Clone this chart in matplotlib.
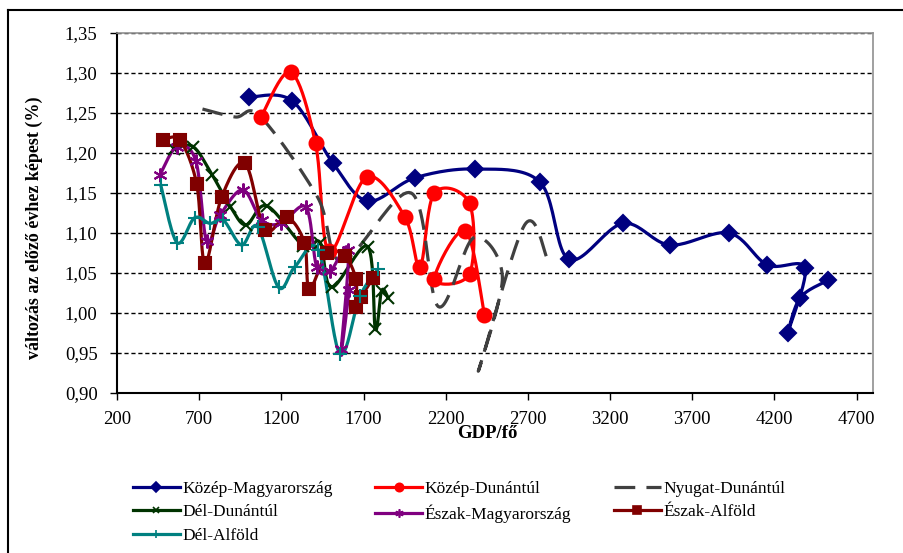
import numpy as np
import matplotlib
matplotlib.use('Agg')
import matplotlib.pyplot as plt
from matplotlib.lines import Line2D
from matplotlib.ticker import FuncFormatter, MultipleLocator

plt.rcParams['font.family'] = ['Liberation Serif', 'DejaVu Serif']

# GDP/fő (x) and change vs previous year (y)
kozep_magy_x = [1003, 1267, 1515, 1725, 2013, 2378, 2772, 2950, 3279, 3565, 3924, 4157, 4386, 4281, 4356, 4528]
kozep_magy_y = [1.270, 1.265, 1.187, 1.140, 1.169, 1.180, 1.164, 1.067, 1.112, 1.085, 1.100, 1.060, 1.056, 0.975, 1.019, 1.041]

kozep_dun_x = [1076, 1257, 1408, 1491, 1719, 1952, 2044, 2131, 2345, 2345, 2131, 2320, 2436]
kozep_dun_y = [1.245, 1.301, 1.212, 1.077, 1.170, 1.120, 1.058, 1.150, 1.137, 1.049, 1.042, 1.103, 0.998]

nyugat_dun_x = [720, 920, 1070, 1420, 1570, 1990, 2155, 2370, 2545, 2400, 2680, 2820]
nyugat_dun_y = [1.255, 1.245, 1.246, 1.145, 1.065, 1.150, 1.008, 1.094, 1.045, 0.928, 1.110, 1.067]

del_dun_x = [545, 663, 778, 890, 985, 1111, 1334, 1436, 1506, 1725, 1772, 1810, 1850]
del_dun_y = [1.205, 1.208, 1.173, 1.133, 1.110, 1.134, 1.084, 1.088, 1.032, 1.083, 0.980, 1.028, 1.019]

eszak_magy_x = [462, 565, 680, 745, 826, 965, 1080, 1198, 1350, 1415, 1496, 1607, 1565, 1613]
eszak_magy_y = [1.173, 1.208, 1.190, 1.090, 1.122, 1.154, 1.116, 1.112, 1.132, 1.058, 1.052, 1.079, 0.955, 1.029]

eszak_alf_x = [478, 583, 685, 735, 837, 979, 1100, 1232, 1340, 1370, 1479, 1587, 1654, 1655, 1685, 1760]
eszak_alf_y = [1.216, 1.216, 1.161, 1.062, 1.145, 1.187, 1.104, 1.120, 1.088, 1.030, 1.075, 1.071, 1.042, 1.008, 1.020, 1.044]

del_alf_x = [466, 565, 672, 766, 847, 958, 1055, 1183, 1283, 1425, 1556, 1678, 1789]
del_alf_y = [1.160, 1.088, 1.119, 1.112, 1.116, 1.085, 1.108, 1.032, 1.058, 1.079, 0.949, 1.021, 1.055]

series = [
    ('Közép-Magyarország', kozep_magy_x, kozep_magy_y, '#000080', 'D', 8, '-'),
    ('Közép-Dunántúl', kozep_dun_x, kozep_dun_y, '#FF0000', 'o', 10, '-'),
    ('Nyugat-Dunántúl', nyugat_dun_x, nyugat_dun_y, '#404040', None, 0, (0, (6.5, 3.5))),
    ('Dél-Dunántúl', del_dun_x, del_dun_y, '#003300', 'x', 8, '-'),
    ('Észak-Magyarország', eszak_magy_x, eszak_magy_y, '#800080', (6, 2, 0), 10, '-'),
    ('Észak-Alföld', eszak_alf_x, eszak_alf_y, '#800000', 's', 8.5, '-'),
    ('Dél-Alföld', del_alf_x, del_alf_y, '#008080', '+', 10, '-'),
]

XMIN, XMAX, YMIN, YMAX = 200, 4800, 0.90, 1.35
# plot area size in pixels, used so the smoothing behaves like Excel's
PW, PH = 756, 360


def smooth(xs, ys, n=24):
    """Excel-like smoothed line (Catmull-Rom through the points)."""
    sx = PW / (XMAX - XMIN)
    sy = PH / (YMAX - YMIN)
    pts = np.column_stack([np.array(xs) * sx, np.array(ys) * sy])
    P = np.vstack([pts[0], pts, pts[-1]])
    t = np.linspace(0, 1, n)[:, None]
    out = []
    for i in range(1, len(P) - 2):
        p0, p1, p2, p3 = P[i - 1], P[i], P[i + 1], P[i + 2]
        c1 = p1 + (p2 - p0) / 6
        c2 = p2 - (p3 - p1) / 6
        seg = (1 - t) ** 3 * p1 + 3 * (1 - t) ** 2 * t * c1 + 3 * (1 - t) * t ** 2 * c2 + t ** 3 * p2
        out.append(seg if i == 1 else seg[1:])
    arr = np.vstack(out)
    return arr[:, 0] / sx, arr[:, 1] / sy


fig = plt.figure(figsize=(9.04, 5.53), dpi=100)
ax = fig.add_axes([117 / 904, 1 - 393 / 553, 756 / 904, 360 / 553])

handles = []
for name, xs, ys, color, marker, ms, ls in series:
    sx, sy = smooth(xs, ys)
    ax.plot(sx, sy, color=color, lw=2.3, linestyle=ls, zorder=3)
    if marker is not None:
        ax.plot(xs, ys, linestyle='none', marker=marker, ms=ms, color=color,
                mec=color, mfc=color, mew=1.5, zorder=4)
    handles.append(Line2D([], [], color=color, lw=2.3, linestyle=ls,
                          marker=marker, ms=ms * 0.6, mec=color, mfc=color, mew=1.2))

ax.set_xlim(XMIN, XMAX)
ax.set_ylim(YMIN, YMAX)
ax.set_xticks(np.arange(200, 4701, 500))
ax.yaxis.set_major_locator(MultipleLocator(0.05))
ax.yaxis.set_major_formatter(FuncFormatter(lambda v, p: f"{v:.2f}".replace('.', ',')))
ax.tick_params(direction='out', length=5, width=1, labelsize=13.5)
ax.tick_params(axis='x', pad=8)
ax.tick_params(axis='y', pad=9)

ax.yaxis.grid(True, linestyle=(0, (3, 2)), color='black', lw=1)
ax.set_axisbelow(True)
for s in ['left', 'bottom']:
    ax.spines[s].set_color('black')
    ax.spines[s].set_linewidth(1.5)
for s in ['top', 'right']:
    ax.spines[s].set_color('#909090')
    ax.spines[s].set_linewidth(1.2)

ax.set_xlabel('GDP/fő', fontsize=13.5, fontweight='bold')
ax.xaxis.set_label_coords(0.49, -0.09)
ax.set_ylabel('változás az előző évhez képest (%)', fontsize=13, fontweight='bold')
ax.yaxis.set_label_coords(-0.098, 0.46)

# legend is filled row by row in the original (3 columns)
order = [0, 3, 6, 1, 4, 2, 5]
fig.legend([handles[i] for i in order], [series[i][0] for i in order],
           ncol=3, loc='upper left', frameon=False,
           bbox_to_anchor=(124 / 904, 1 - 472 / 553), fontsize=12.5,
           handlelength=2.7, handletextpad=0.15, columnspacing=2.45,
           labelspacing=0.42, borderpad=0)

# chart area border
fig.add_artist(Line2D([8 / 904, 1], [1 - 10 / 553] * 2, transform=fig.transFigure, color='black', lw=1.5))
fig.add_artist(Line2D([8 / 904] * 2, [0, 1 - 10 / 553], transform=fig.transFigure, color='black', lw=1.5))

fig.savefig('out.png', dpi=100)
